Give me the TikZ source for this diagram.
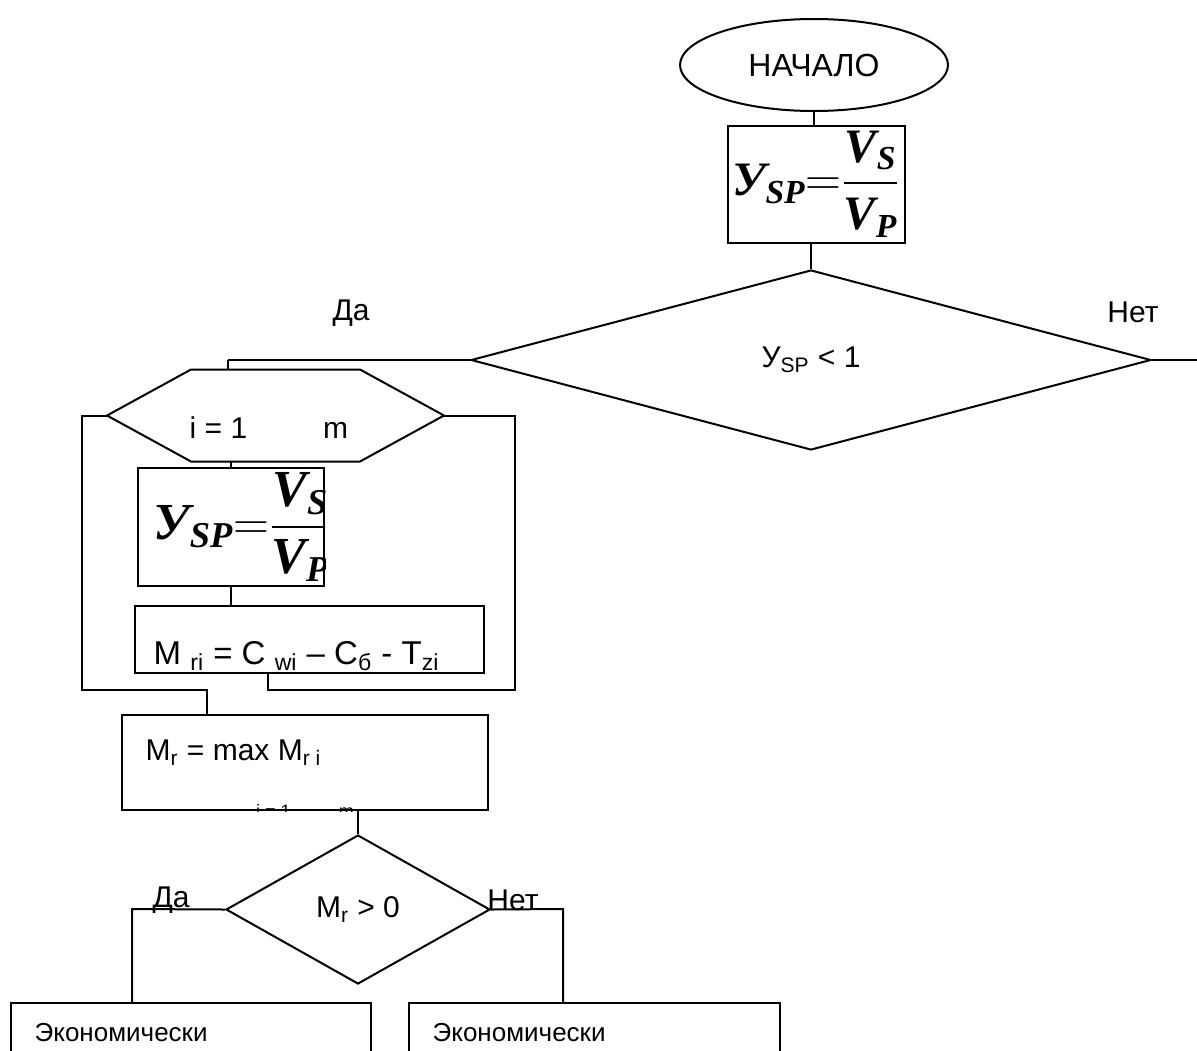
\documentclass[tikz,border=0pt]{standalone}
\usepackage{amsmath}
\usepackage{fontspec}
\setmainfont{Liberation Sans}
\newfontfamily\timesbi{Liberation Serif}
\newcommand{\fbi}[1]{\text{\timesbi\bfseries\itshape #1}}
\usetikzlibrary{shapes,positioning,calc}

\begin{document}
\begin{tikzpicture}[x=0.5pt,y=-0.5pt,line width=1pt,
    every node/.style={font=\fontsize{15}{17}\selectfont},
    box/.style={draw,rectangle,inner sep=0pt},
    decision/.style={draw,diamond,inner sep=0pt},
    loopbox/.style={rectangle,inner sep=0pt},
    formula/.style={font=\fontsize{24}{26}\selectfont}]
  \useasboundingbox (0,0) rectangle (1197,1050);
  \clip (0,0) rectangle (1197,1050);

  \node[draw,ellipse,minimum width=134pt,minimum height=46pt,inner sep=0pt,
    font=\fontsize{16}{18}\selectfont] (start) at (814,65) {НАЧАЛО};
  \node[box,formula,minimum width=88.5pt,minimum height=58.5pt] (ratio) at (816,184)
    {$\fbi{У}_{\fbi{SP}}{=}\dfrac{\fbi{V}_{\fbi{S}}}{\fbi{V}_{\fbi{P}}}$};
  \node[decision,minimum width=340pt,minimum height=90pt,aspect=3.78] (check) at (811,360)
    {У\textsubscript{SP} < 1};
  \node (yes1) at (351,313) {Да};
  \node (no1) at (1133,312) {Нет};
  \coordinate (out) at (1210,360);
  \coordinate (c1) at (228,360);

  \draw (start.south) -- (start.south |- ratio.north);
  \draw (ratio.south -| check.north) -- (check.north);
  \draw (check.east) -- (out);

  % loop over i
  \node[loopbox,minimum width=167.5pt,minimum height=45pt] (loop) at (275.5,415.5) {};
  \draw (loop.west) -- ([xshift=42pt]loop.north west) -- ([xshift=-42pt]loop.north east)
    -- (loop.east) -- ([xshift=-42pt]loop.south east) -- ([xshift=42pt]loop.south west) -- cycle;
  \node (loopT) at (269,428) {i = 1\hspace{38pt}m};
  \node[box,minimum width=93pt,minimum height=59pt] (ratioI) at (231,527) {};
  \begin{scope}
    \clip (ratioI.south west) rectangle (ratioI.north east);
    \node[formula,anchor=west,font=\fontsize{26}{28}\selectfont] (ratioIF) at (146,527)
      {$\fbi{У}_{\fbi{SP}}{=}\dfrac{\fbi{V}_{\fbi{Si}}}{\fbi{V}_{\fbi{Pi}}}$};
  \end{scope}
  \node[box,minimum width=174.5pt,minimum height=33.5pt] (margin) at (309.5,639.5) {};
  \node[anchor=west,font=\fontsize{16.5}{18}\selectfont] (marginT) at (146,656)
    {M \textsubscript{ri} = C \textsubscript{wi} – C\textsubscript{б} - T\textsubscript{zi}};

  \draw (c1) -- (check.west);
  \draw (c1) -- (c1 |- loop.north);
  \draw (ratioI.north |- loop.south) -- (ratioI.north);
  \draw (ratioI.south) -- (ratioI.south |- margin.north);

  \coordinate (r1) at (268,690);
  \coordinate (r2) at (515,690);
  \coordinate (l1) at (82,690);
  \coordinate (l2) at (207,690);
  \draw (margin.south -| r1) -- (r1) -- (r2) -- (r2 |- loop.east) -- (loop.east);

  \node[box,minimum width=183pt,minimum height=47.5pt] (best) at (305,762.5) {};
  \node[anchor=west] (bestT) at (138,753) {M\textsubscript{r} = max M\textsubscript{r i}};
  \begin{scope}
    \clip (best.south west) rectangle (best.north east);
    \node[font=\fontsize{9}{10}\selectfont] (bestR) at (305,811) {i = 1\hspace{24pt}m};
  \end{scope}
  \draw (loop.west) -- (l1 |- loop.west) -- (l1) -- (l2) -- (l2 |- best.north);

  % result
  \node[decision,minimum width=132pt,minimum height=74.5pt,aspect=1.77] (check2) at (358,909.5)
    {M\textsubscript{r} > 0};
  \draw (check2.north |- best.south) -- (check2.north);
  \node (yes2) at (171,900) {Да};
  \node (no2) at (513,900) {Нет};
  \node[box,minimum width=180pt,minimum height=43.5pt] (res1) at (191,1046.5) {};
  \node[box,minimum width=185.5pt,minimum height=43.5pt] (res2) at (594.5,1046.5) {};
  \node[anchor=west,font=\fontsize{13}{15}\selectfont] (res1T) at (27,1033) {Экономически};
  \node[anchor=west,font=\fontsize{13}{15}\selectfont] (res2T) at (425,1033) {Экономически};
  \coordinate (d1) at (132,909);
  \coordinate (d2) at (563,909);
  \draw (check2.west) -- (d1) -- (d1 |- res1.north);
  \draw (check2.east) -- (d2) -- (d2 |- res2.north);
\end{tikzpicture}
\end{document}
